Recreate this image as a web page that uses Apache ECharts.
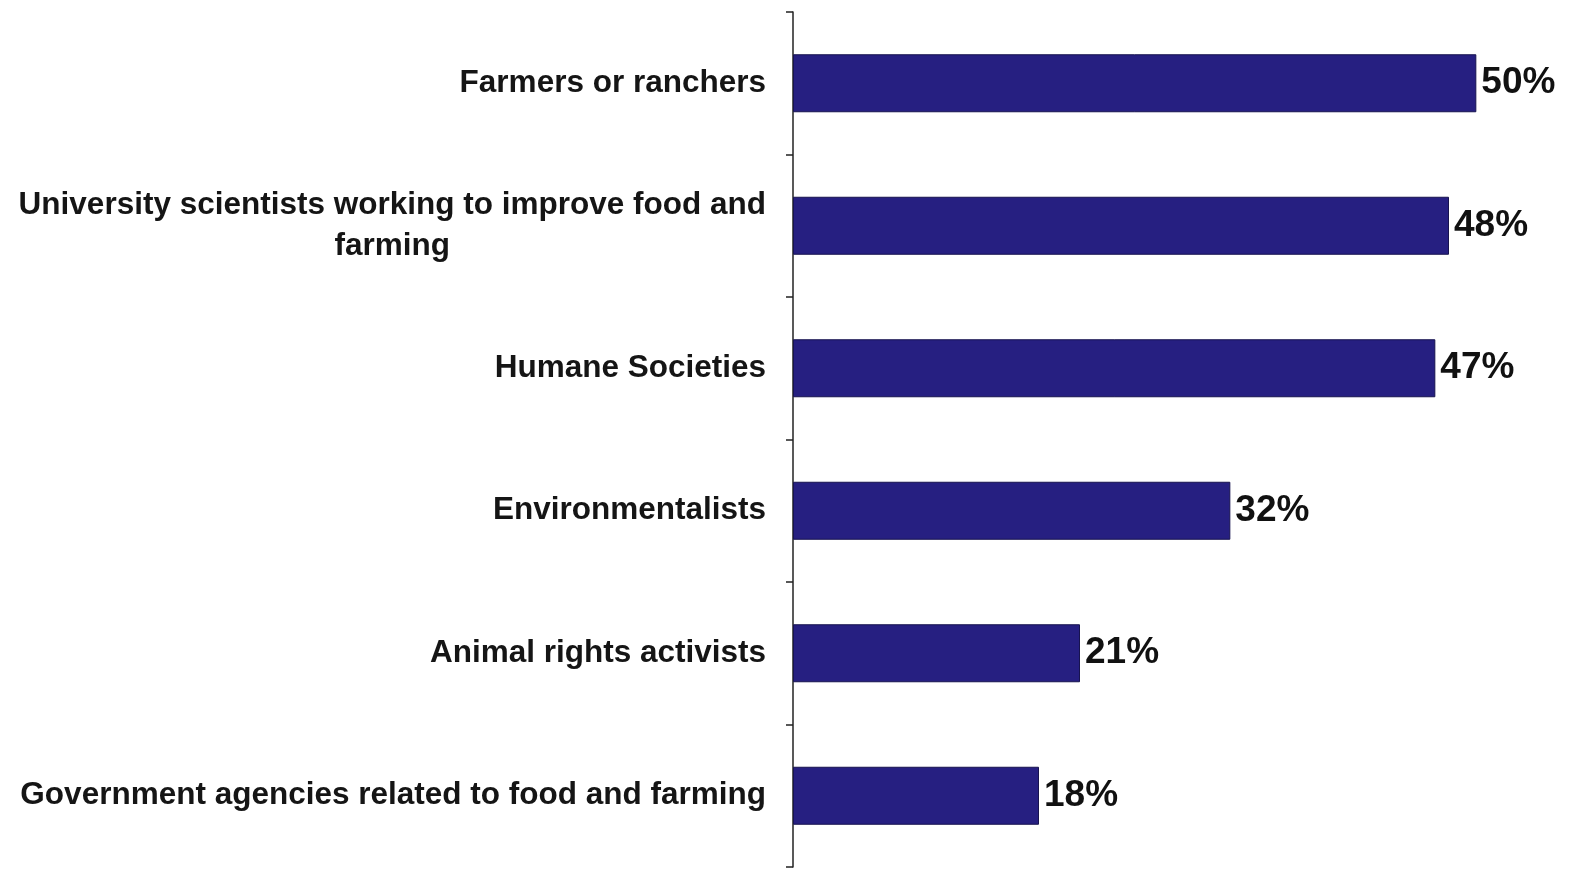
<!DOCTYPE html>
<html>
<head>
<meta charset="utf-8">
<script src="https://cdn.jsdelivr.net/npm/echarts@6/dist/echarts.min.js"></script>
<style>html,body{margin:0;padding:0;background:#fff}#c{width:1577px;height:869px}</style>
</head>
<body>
<div id="c"></div>
<script>
const categories = [
  'Farmers or ranchers',
  'University scientists working to improve food and\nfarming',
  'Humane Societies',
  'Environmentalists',
  'Animal rights activists',
  'Government agencies related to food and farming'
];
const values = [50, 48, 47, 32, 21, 18];

const chart = echarts.init(document.getElementById('c'));
chart.setOption({
  animation: false,
  backgroundColor: '#ffffff',
  grid: { left: 793, top: 12, bottom: 2, right: 5, containLabel: false },
  xAxis: {
    type: 'value', min: 0, max: 57, show: false
  },
  yAxis: {
    type: 'category', inverse: true, data: categories,
    axisLine: { show: true, lineStyle: { color: '#222', width: 1.5 } },
    axisTick: { show: true, length: 7, lineStyle: { color: '#222', width: 1.5 } },
    axisLabel: {
      margin: 27,
      fontFamily: 'Liberation Sans, Arial, sans-serif',
      fontWeight: 'bold', fontSize: 31.5, color: '#151515',
      lineHeight: 41,
      formatter: v => v.split('\n').map(l => '{c|' + l + '}').join('\n'),
      rich: { c: { align: 'center', fontFamily: 'Liberation Sans, Arial, sans-serif', fontWeight: 'bold', fontSize: 31.5, color: '#151515', lineHeight: 41 } }
    },
    splitLine: { show: false }
  },
  series: [{
    type: 'bar', data: values, barWidth: 58,
    itemStyle: { color: '#261f81', borderColor: '#17134f', borderWidth: 1 },
    label: {
      show: true, position: 'right', distance: 5,
      formatter: p => p.value + '%',
      fontFamily: 'Liberation Sans, Arial, sans-serif',
      fontWeight: 'bold', fontSize: 37, color: '#111'
    }
  }]
});
</script>
</body>
</html>
